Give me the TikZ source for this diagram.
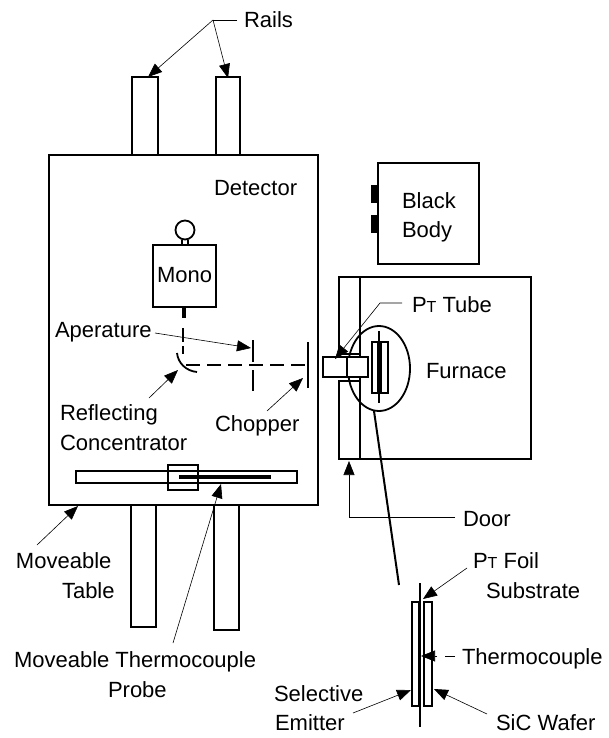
\documentclass[tikz,border=0pt]{standalone}
\usepackage{fontspec}
\setmainfont{Liberation Sans}
\usetikzlibrary{arrows.meta}
\newcommand{\PtText}{P{\fontsize{16}{18}\selectfont T}}
\tikzset{
  box/.style={draw=black,line width=1.8pt,fill=white},
  heavy/.style={draw=black,line width=1.8pt},
  bar/.style={draw=black,line width=4pt},
  leader/.style={draw=black,line width=0.6pt,-{Triangle[length=14pt,width=11pt]}},
  plainleader/.style={draw=black,line width=0.6pt},
  lbl/.style={anchor=base west,inner sep=0pt,outer sep=0pt,font=\fontsize{22}{24}\selectfont}
}
\begin{document}
\begin{tikzpicture}[x=1pt,y=-1pt]
\useasboundingbox (0,0) rectangle (608,738);
% rails
\draw[box] (132,77) rectangle (158,155);
\draw[box] (216,77) rectangle (240,155);
\draw[box] (131,505) rectangle (156,627);
\draw[box] (214,505) rectangle (239,630);
% table
\draw[box] (49,155) rectangle (318,505);
\draw[box] (76,471) rectangle (297,483);
\draw[box,fill=none] (168,465) rectangle (198,490);
\draw[bar] (179,477) -- (271,477);
% mono
\draw[box] (185,230) circle (9.5);
\draw[draw=black,line width=1.2pt] (182,240) -- (182,245) (188,240) -- (188,245);
\draw[box] (153,245) rectangle (216,307);
\draw[line width=4pt] (183.5,307) -- (183.5,318);
\draw[heavy] (183,328) -- (183,342) (183,346) -- (183,354);
\draw[heavy] (177,353) .. controls (178,363) and (186,371) .. (197,372);
\draw[line width=2pt,dash pattern=on 14pt off 7pt] (186,365) -- (305,365);
\draw[heavy] (253,340) -- (253,362) (253,370) -- (253,391);
\draw[heavy] (308,342) -- (308,388);
% black body
\fill (371,185) rectangle (378,203);
\fill (371,215) rectangle (378,233);
\draw[box] (378,163) rectangle (479,264);
% furnace
\draw[box] (339,277) rectangle (531,459);
\draw[heavy] (360,277) -- (360,459);
\fill[white] (319,354) rectangle (350,381);
\draw[heavy] (339,277) -- (339,354) -- (360,354);
\draw[heavy] (339,459) -- (339,381) -- (360,381);
\draw[draw=black,line width=1.8pt] (379,368.5) ellipse (31 and 42.5);
\draw[box] (323,357) rectangle (368,377);
\draw[heavy] (347,357) -- (347,377);
\draw[heavy] (372,342) rectangle (388,393);
\draw[line width=4.5pt] (379.5,342) -- (379.5,393);
\draw[line width=2pt] (379,331) -- (379,403);
\draw[heavy] (317.5,155) -- (317.5,505);
% detail
\draw[line width=2pt] (374,411) -- (399,585);
\draw[heavy] (412,602) rectangle (419,706);
\draw[heavy] (424,602) rectangle (432,706);
\draw[line width=2.2pt] (420,583) -- (420,727);
% labels
\node[lbl] (rails) at (244,28) {Rails};
\node[lbl] (detector) at (214,195) {Detector};
\node[lbl] (mono) at (157,282) {Mono};
\node[lbl] (black) at (402,208) {Black};
\node[lbl] (body) at (402,237) {Body};
\node[lbl] (pttube) at (412,312) {\PtText{} Tube};
\node[lbl] (furnace) at (426,378) {Furnace};
\node[lbl] (aperature) at (55,337) {Aperature};
\node[lbl] (reflecting) at (60,420) {Reflecting};
\node[lbl] (concentrator) at (60,450) {Concentrator};
\node[lbl] (chopper) at (215,431) {Chopper};
\node[lbl] (moveable) at (16,568) {Moveable};
\node[lbl] (table) at (62,598) {Table};
\node[lbl] (probelabel) at (14,667) {Moveable Thermocouple};
\node[lbl] (probe) at (108,697) {Probe};
\node[lbl] (door) at (463,526) {Door};
\node[lbl] (ptfoil) at (473,568) {\PtText{} Foil};
\node[lbl] (substrate) at (486,598) {Substrate};
\node[lbl] (thermo) at (462,664) {Thermocouple};
\node[lbl] (sic) at (496,730) {SiC Wafer};
\node[lbl] (selective) at (274,701) {Selective};
\node[lbl] (emitter) at (275,730) {Emitter};
% leader ends
\coordinate (railsJ) at (213,20);
\coordinate (railsK) at (237,20);
\coordinate (railA) at (148,77);
\coordinate (railB) at (228,78);
\coordinate (apS) at (155,333);
\coordinate (apT) at (251,348);
\coordinate (refS) at (149,398);
\coordinate (refT) at (178,370);
\coordinate (choS) at (267,411);
\coordinate (choT) at (303,378);
\coordinate (tabS) at (37,545);
\coordinate (tabT) at (78,506);
\coordinate (proS) at (173,643);
\coordinate (proT) at (221,484);
\coordinate (tubeS) at (402,303);
\coordinate (tubeJ) at (380,303);
\coordinate (tubeT) at (335,359);
\coordinate (doorS) at (455,517);
\coordinate (doorJ) at (349,517);
\coordinate (doorT) at (349,461);
\coordinate (foilS) at (467,568);
\coordinate (foilT) at (423,599);
\coordinate (selS) at (353,713);
\coordinate (selT) at (411,690);
\coordinate (sicS) at (487,714);
\coordinate (sicT) at (434,689);
\coordinate (thS) at (455,656);
\coordinate (thM) at (445,656);
\coordinate (thA) at (437,656);
\coordinate (thT) at (421,656);
% leaders
\draw[plainleader] (railsK) -- (railsJ);
\draw[leader] (railsJ) -- (railA);
\draw[leader] (railsJ) -- (railB);
\draw[leader] (apS) -- (apT);
\draw[leader] (refS) -- (refT);
\draw[leader] (choS) -- (choT);
\draw[leader] (tabS) -- (tabT);
\draw[leader] (proS) -- (proT);
\draw[leader] (tubeS) -- (tubeJ) -- (tubeT);
\draw[leader] (doorS) -- (doorJ) -- (doorT);
\draw[leader] (foilS) -- (foilT);
\draw[leader] (selS) -- (selT);
\draw[leader] (sicS) -- (sicT);
\draw[plainleader] (thS) -- (thM);
\draw[leader] (thA) -- (thT);
\end{tikzpicture}
\end{document}
